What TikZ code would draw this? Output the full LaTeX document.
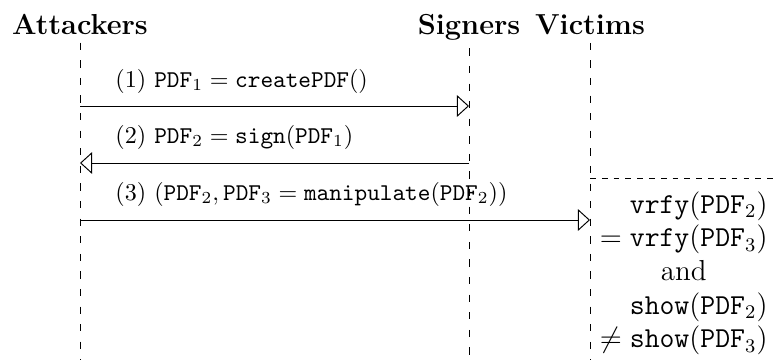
\documentclass[tikz,border=0pt]{standalone}
\usepackage{amsmath,amssymb}
\usetikzlibrary{arrows.meta}
\tikzset{
  actor/.style={font=\large\bfseries, anchor=base},
  lifeline/.style={dash pattern=on 3pt off 4.3pt},
  boxline/.style={dash pattern=on 2.4pt off 2.5pt},
  msg/.style={-{Triangle[open,length=5pt,width=9pt]}},
  msglabel/.style={anchor=base west, inner sep=0pt},
}

\begin{document}
\begin{tikzpicture}[x=0.415pt,y=-0.415pt]
    \useasboundingbox (0,0) rectangle (774,360);
    % actors and lifelines
    \node[actor] (att) at (80,34) {Attackers};
    \node[actor] (sig) at (469,34) {Signers};
    \node[actor] (vic) at (590,34) {Victims};
    \foreach \n in {att,sig,vic}{
        \draw[lifeline] (\n) -- (\n |- 0,360);
    }
    % messages
    \coordinate (a1) at (att |- 0,106);
    \coordinate (s1) at (sig |- 0,106);
    \draw[msg] (a1) -- (s1);
    \node[msglabel] (l1) at (115,87) {(1) $\mathtt{PDF}_1 = \mathtt{createPDF}()$};
    \coordinate (s2) at (sig |- 0,163);
    \coordinate (a2) at (att |- 0,163);
    \draw[msg] (s2) -- (a2);
    \node[msglabel] (l2) at (115,143) {(2) $\mathtt{PDF}_2 = \mathtt{sign}(\mathtt{PDF}_1)$};
    \coordinate (a3) at (att |- 0,220);
    \coordinate (v3) at (vic |- 0,220);
    \draw[msg] (a3) -- (v3);
    \node[msglabel] (l3) at (115,200) {(3) $(\mathtt{PDF}_2, \mathtt{PDF}_3 = \mathtt{manipulate}(\mathtt{PDF}_2))$};
    % victims' check
    \coordinate (vb) at (vic |- 0,178);
    \draw[boxline] (vb) -- (vb -| 774,0);
    \node[anchor=base east, inner sep=0pt, font=\large] (cond) at (768,213) {%
        \begin{tabular}[t]{@{}r@{}}
            $\mathtt{vrfy}(\mathtt{PDF}_2)$\\
            $= \mathtt{vrfy}(\mathtt{PDF}_3)$\\
            \multicolumn{1}{@{}c@{}}{and}\\
            $\mathtt{show}(\mathtt{PDF}_2)$\\
            $\neq \mathtt{show}(\mathtt{PDF}_3)$
        \end{tabular}};
\end{tikzpicture}
\end{document}
